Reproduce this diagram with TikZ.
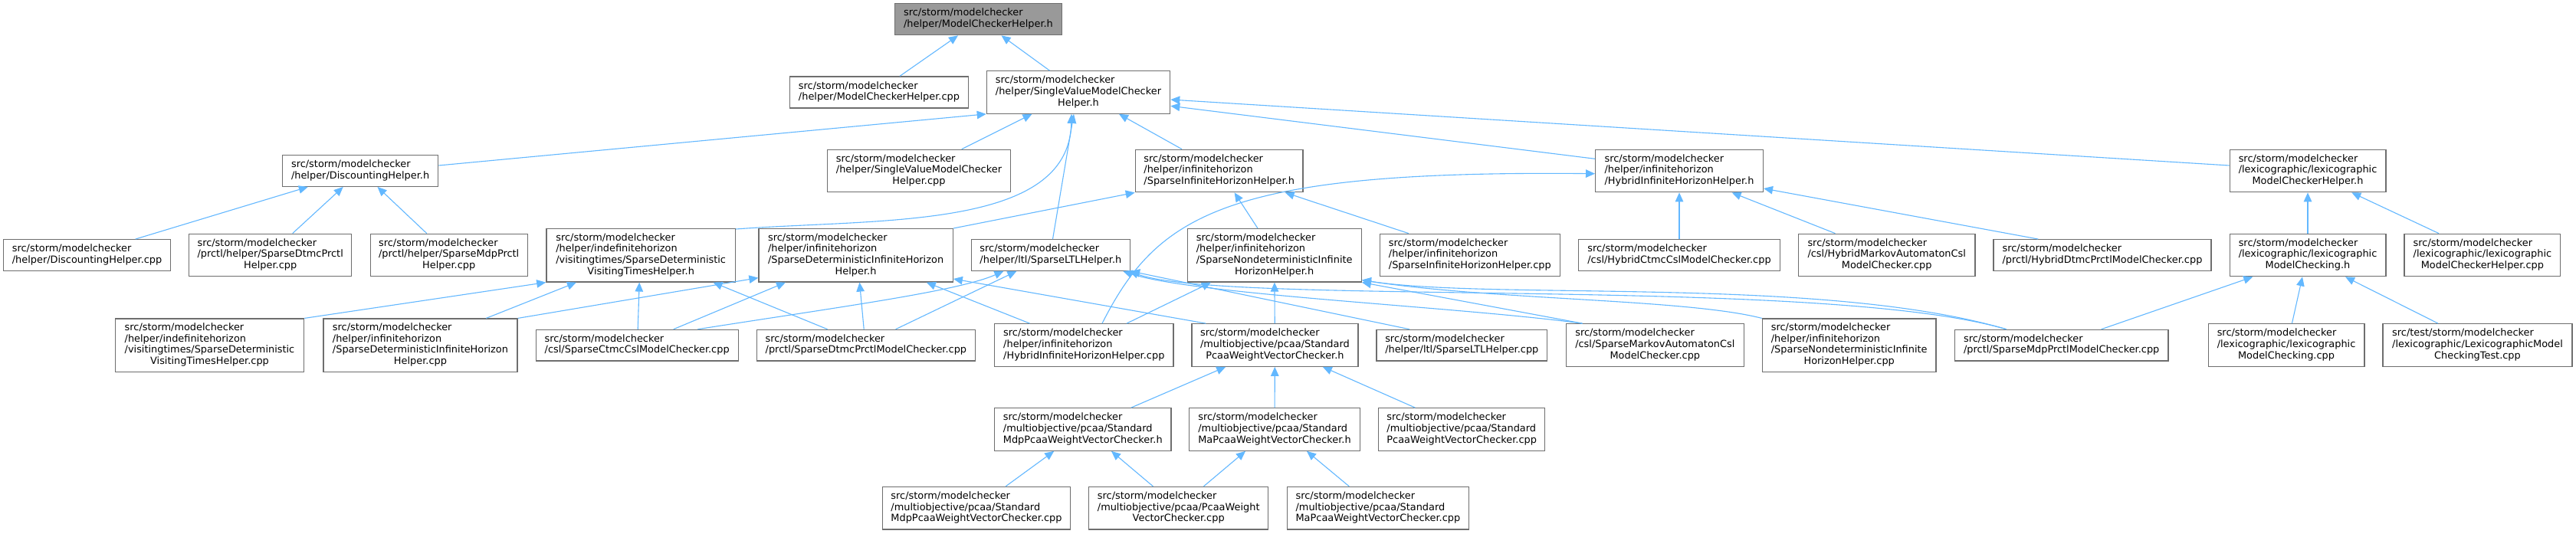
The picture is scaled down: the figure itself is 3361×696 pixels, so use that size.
\documentclass[tikz,border=0pt]{standalone}
\usepackage{fontspec}
\setmainfont{DejaVu Sans}
\usetikzlibrary{arrows.meta,calc}
\definecolor{edgeblue}{HTML}{63B8FF}
\definecolor{boxborder}{HTML}{6E6E6E}
\definecolor{rootfill}{HTML}{999999}
\newcommand{\lbl}[2]{\begin{tabular}{@{}l@{}}#1\\\multicolumn{1}{@{}c@{}}{#2}\end{tabular}}
\begin{document}
\begin{tikzpicture}[x=1pt,y=-1pt,
  box/.style={draw=boxborder,line width=1.3pt,fill=white,inner sep=0pt,
    font=\fontsize{12.9pt}{14.7pt}\selectfont},
  rootbox/.style={box,fill=rootfill},
  edge/.style={draw=edgeblue,line width=1.1pt,-{Triangle[length=12pt,width=10.5pt]}}]
\fill[white] (0,0) rectangle (3361,696);
\useasboundingbox (0,0) rectangle (3361,696);
% row 1
\node[rootbox,minimum width=218pt,minimum height=41pt] (mch) at (1276.5,25.2) {\lbl{src/storm/modelchecker}{/helper/ModelCheckerHelper.h}};
% row 2
\node[box,minimum width=232.5pt,minimum height=41pt] (mchcpp) at (1147,120.5) {\lbl{src/storm/modelchecker}{/helper/ModelCheckerHelper.cpp}};
\node[box,minimum width=239.3pt,minimum height=55.4pt] (svh) at (1407,120.5) {\lbl{src/storm/modelchecker\\/helper/SingleValueModelChecker}{Helper.h}};
% row 3
\node[box,minimum width=203.2pt,minimum height=40.6pt] (dh) at (470.1,223) {\lbl{src/storm/modelchecker}{/helper/DiscountingHelper.h}};
\node[box,minimum width=238.8pt,minimum height=55.4pt] (svhcpp) at (1199,223) {\lbl{src/storm/modelchecker\\/helper/SingleValueModelChecker}{Helper.cpp}};
\node[box,minimum width=218.7pt,minimum height=55.4pt] (sih) at (1590.7,223) {\lbl{src/storm/modelchecker\\/helper/infinitehorizon}{/SparseInfiniteHorizonHelper.h}};
\node[box,minimum width=218.7pt,minimum height=55.4pt] (hih) at (2191,223) {\lbl{src/storm/modelchecker\\/helper/infinitehorizon}{/HybridInfiniteHorizonHelper.h}};
\node[box,minimum width=203.7pt,minimum height=55.4pt] (lmch) at (3011,223) {\lbl{src/storm/modelchecker\\/lexicographic/lexicographic}{ModelCheckerHelper.h}};
% row 4
\node[box,minimum width=218pt,minimum height=40.6pt] (dhcpp) at (113.6,333) {\lbl{src/storm/modelchecker}{/helper/DiscountingHelper.cpp}};
\node[box,minimum width=211.8pt,minimum height=55.4pt] (sdtmcph) at (352.7,333) {\lbl{src/storm/modelchecker\\/prctl/helper/SparseDtmcPrctl}{Helper.cpp}};
\node[box,minimum width=205pt,minimum height=55.4pt] (smdpph) at (585.7,333) {\lbl{src/storm/modelchecker\\/prctl/helper/SparseMdpPrctl}{Helper.cpp}};
\node[box,minimum width=246.7pt,minimum height=69.3pt] (vth) at (836.2,333.3) {\lbl{src/storm/modelchecker\\/helper/indefinitehorizon\\/visitingtimes/SparseDeterministic}{VisitingTimesHelper.h}};
\node[box,minimum width=253.2pt,minimum height=69.3pt] (sdih) at (1116.6,333.3) {\lbl{src/storm/modelchecker\\/helper/infinitehorizon\\/SparseDeterministicInfiniteHorizon}{Helper.h}};
\node[box,minimum width=207.2pt,minimum height=40.6pt] (ltlh) at (1370.9,333) {\lbl{src/storm/modelchecker}{/helper/ltl/SparseLTLHelper.h}};
\node[box,minimum width=227.1pt,minimum height=69.3pt] (snih) at (1662.7,333.3) {\lbl{src/storm/modelchecker\\/helper/infinitehorizon\\/SparseNondeterministicInfinite}{HorizonHelper.h}};
\node[box,minimum width=234.8pt,minimum height=55.4pt] (sihcpp) at (1917.8,333) {\lbl{src/storm/modelchecker\\/helper/infinitehorizon}{/SparseInfiniteHorizonHelper.cpp}};
\node[box,minimum width=263.5pt,minimum height=40.6pt] (hctmc) at (2191,333) {\lbl{src/storm/modelchecker}{/csl/HybridCtmcCslModelChecker.cpp}};
\node[box,minimum width=230.8pt,minimum height=55.4pt] (hma) at (2461.7,333) {\lbl{src/storm/modelchecker\\/csl/HybridMarkovAutomatonCsl}{ModelChecker.cpp}};
\node[box,minimum width=283.9pt,minimum height=40.6pt] (hdtmc) at (2743,333) {\lbl{src/storm/modelchecker}{/prctl/HybridDtmcPrctlModelChecker.cpp}};
\node[box,minimum width=203.7pt,minimum height=55.4pt] (lmc) at (3011,333) {\lbl{src/storm/modelchecker\\/lexicographic/lexicographic}{ModelChecking.h}};
\node[box,minimum width=203.7pt,minimum height=55.4pt] (lmchcpp) at (3238.9,333) {\lbl{src/storm/modelchecker\\/lexicographic/lexicographic}{ModelCheckerHelper.cpp}};
% row 5
\node[box,minimum width=246.3pt,minimum height=69.3pt] (vthcpp) at (273.5,450.7) {\lbl{src/storm/modelchecker\\/helper/indefinitehorizon\\/visitingtimes/SparseDeterministic}{VisitingTimesHelper.cpp}};
\node[box,minimum width=253.1pt,minimum height=69.3pt] (sdihcpp) at (548.5,450.7) {\lbl{src/storm/modelchecker\\/helper/infinitehorizon\\/SparseDeterministicInfiniteHorizon}{Helper.cpp}};
\node[box,minimum width=263.9pt,minimum height=40.6pt] (sctmc) at (831.2,450.7) {\lbl{src/storm/modelchecker}{/csl/SparseCtmcCslModelChecker.cpp}};
\node[box,minimum width=285.3pt,minimum height=40.6pt] (sdtmcmc) at (1129.9,450.7) {\lbl{src/storm/modelchecker}{/prctl/SparseDtmcPrctlModelChecker.cpp}};
\node[box,minimum width=233.1pt,minimum height=55.4pt] (hihcpp) at (1414.3,450.5) {\lbl{src/storm/modelchecker\\/helper/infinitehorizon}{/HybridInfiniteHorizonHelper.cpp}};
\node[box,minimum width=216.9pt,minimum height=55.4pt] (spwh) at (1663.4,450.5) {\lbl{src/storm/modelchecker\\/multiobjective/pcaa/Standard}{PcaaWeightVectorChecker.h}};
\node[box,minimum width=222.7pt,minimum height=40.6pt] (ltlhcpp) at (1907.3,450.7) {\lbl{src/storm/modelchecker}{/helper/ltl/SparseLTLHelper.cpp}};
\node[box,minimum width=231.9pt,minimum height=55.4pt] (smacsl) at (2159.3,450.5) {\lbl{src/storm/modelchecker\\/csl/SparseMarkovAutomatonCsl}{ModelChecker.cpp}};
\node[box,minimum width=226.7pt,minimum height=69.3pt] (snihcpp) at (2412.7,450.7) {\lbl{src/storm/modelchecker\\/helper/infinitehorizon\\/SparseNondeterministicInfinite}{HorizonHelper.cpp}};
\node[box,minimum width=278.4pt,minimum height=40.6pt] (smdpmc) at (2689.7,450.7) {\lbl{src/storm/modelchecker}{/prctl/SparseMdpPrctlModelChecker.cpp}};
\node[box,minimum width=203.7pt,minimum height=55.4pt] (lmccpp) at (2983,450.5) {\lbl{src/storm/modelchecker\\/lexicographic/lexicographic}{ModelChecking.cpp}};
\node[box,minimum width=247.1pt,minimum height=55.4pt] (lmctest) at (3232.5,450.5) {\lbl{src/test/storm/modelchecker\\/lexicographic/LexicographicModel}{CheckingTest.cpp}};
% row 6
\node[box,minimum width=230.2pt,minimum height=55.4pt] (smdpwh) at (1412.8,560.5) {\lbl{src/storm/modelchecker\\/multiobjective/pcaa/Standard}{MdpPcaaWeightVectorChecker.h}};
\node[box,minimum width=223.1pt,minimum height=55.4pt] (smawh) at (1663,560.5) {\lbl{src/storm/modelchecker\\/multiobjective/pcaa/Standard}{MaPcaaWeightVectorChecker.h}};
\node[box,minimum width=217pt,minimum height=55.4pt] (spwcpp) at (1907.2,560.5) {\lbl{src/storm/modelchecker\\/multiobjective/pcaa/Standard}{PcaaWeightVectorChecker.cpp}};
% row 7
\node[box,minimum width=245.1pt,minimum height=55.4pt] (smdpwcpp) at (1274,663.2) {\lbl{src/storm/modelchecker\\/multiobjective/pcaa/Standard}{MdpPcaaWeightVectorChecker.cpp}};
\node[box,minimum width=234.2pt,minimum height=55.4pt] (pwvccpp) at (1537.7,663.2) {\lbl{src/storm/modelchecker\\/multiobjective/pcaa/PcaaWeight}{VectorChecker.cpp}};
\node[box,minimum width=237pt,minimum height=55.4pt] (smawcpp) at (1797.9,663.2) {\lbl{src/storm/modelchecker\\/multiobjective/pcaa/Standard}{MaPcaaWeightVectorChecker.cpp}};
% edges
\draw[edge] ([xshift=27pt]mchcpp.north) -- ([xshift=-26.5pt]mch.south);
\draw[edge] ([xshift=-37.5pt]svh.north) -- ([xshift=30pt]mch.south);
\draw[edge] ([yshift=7pt]dh.east) -- (svh.south west);
\draw[edge] ([xshift=55.7pt]svhcpp.north) -- ([xshift=-60.5pt]svh.south);
\draw[edge] ([xshift=-48.7pt]sih.north) -- ([xshift=53pt]svh.south);
\draw[edge] ([yshift=15.7pt]hih.west) -- ([yshift=-17.8pt]svh.east);
\draw[edge] ([yshift=7pt]lmch.west) -- ([yshift=-9.5pt]svh.east);
\draw[edge] ([yshift=-1pt]vth.north east) .. controls (1150,285) and (1395,300) .. ([xshift=-9pt]svh.south);
\draw[edge] ([xshift=2.6pt]ltlh.north) -- ([xshift=-6pt]svh.south);
\draw[edge] ([xshift=63.2pt]dhcpp.north) -- ([xshift=-68.3pt]dh.south);
\draw[edge] ([xshift=29pt]sdtmcph.north) -- ([xshift=-22.4pt]dh.south);
\draw[edge] ([xshift=-28.9pt]smdpph.north) -- ([xshift=22.4pt]dh.south);
\draw[edge] (sdih.north east) -- (sih.south west);
\draw[edge] ([xshift=-21.7pt]snih.north) -- ([xshift=19.9pt]sih.south);
\draw[edge] ([xshift=-80pt]sihcpp.north) -- ([xshift=86pt]sih.south);
\draw[edge] ([xshift=23.7pt]hihcpp.north) .. controls (1510,280) and (1600,222) .. ([yshift=-3.7pt]hih.west);
\draw[edge] (hctmc) -- (hih);
\draw[edge] ([xshift=-67.2pt]hma.north) -- ([xshift=68.6pt]hih.south);
\draw[edge] ([xshift=-83.8pt]hdtmc.north) -- ([yshift=-23pt]hih.east);
\draw[edge] (lmc) -- (lmch);
\draw[edge] ([xshift=-56.9pt]lmchcpp.north) -- ([xshift=57.3pt]lmch.south);
\draw[edge] ([xshift=51.9pt]smdpmc.north) -- ([xshift=-71.7pt]lmc.south);
\draw[edge] ([xshift=7.4pt]lmccpp.north) -- ([xshift=-7pt]lmc.south);
\draw[edge] ([xshift=-51.5pt]lmctest.north) -- ([xshift=49pt]lmc.south);
\draw[edge] (vthcpp.north east) -- (vth.south west);
\draw[edge] ([xshift=85.8pt]sdihcpp.north) -- ([xshift=-84.2pt]vth.south);
\draw[edge] ([xshift=1pt]sctmc.north) -- ([xshift=-2pt]vth.south);
\draw[edge] ([xshift=-50.3pt]sdtmcmc.north) -- ([xshift=94.2pt]vth.south);
\draw[edge] (sdihcpp.north east) -- ([yshift=6pt]sdih.south west);
\draw[edge] ([xshift=47.5pt]sctmc.north) -- ([xshift=-91.6pt]sdih.south);
\draw[edge] ([xshift=-2.7pt]sdtmcmc.north) -- ([xshift=4.9pt]sdih.south);
\draw[edge] ([xshift=-70.7pt]hihcpp.north) -- ([xshift=92.2pt]sdih.south);
\draw[edge] ([xshift=-90.1pt]spwh.north) -- ([yshift=-30.7pt]sdih.east);
\draw[edge] ([xshift=79.1pt]sctmc.north) .. controls (1100,400) and (1250,380) .. ([xshift=-61.5pt]ltlh.south);
\draw[edge] ([xshift=38.7pt]sdtmcmc.north) -- ([xshift=-44.5pt]ltlh.south);
\draw[edge] ([xshift=-68.3pt]ltlhcpp.north) -- (ltlh.south east);
\draw[edge] ([xshift=-94.7pt]smacsl.north) .. controls (1900,400) and (1560,385) .. ([xshift=-10pt]ltlh.south east);
\draw[edge] ([xshift=-72pt]smdpmc.north) .. controls (2380,360) and (1600,400) .. ([xshift=-2pt]ltlh.south east);
\draw[edge] ([xshift=55.7pt]hihcpp.north) -- ([xshift=-82.7pt]snih.south);
\draw[edge] (spwh) -- (snih);
\draw[edge] ([xshift=-94.7pt]smacsl.north) -- (snih.south east);
\draw[edge] (snihcpp.north west) .. controls (2200,390) and (1950,392) .. ([yshift=3pt]snih.south east);
\draw[edge] ([xshift=-72pt]smdpmc.north) .. controls (2380,360) and (1950,392) .. ([yshift=3pt]snih.south east);
\draw[edge] ([xshift=62.9pt]smdpwh.north) -- ([xshift=-64.2pt]spwh.south);
\draw[edge] (smawh) -- (spwh);
\draw[edge] ([xshift=-60.8pt]spwcpp.north) -- ([xshift=62.4pt]spwh.south);
\draw[edge] ([xshift=38.1pt]smdpwcpp.north) -- ([xshift=-37.6pt]smdpwh.south);
\draw[edge] ([xshift=-33.2pt]pwvccpp.north) -- ([xshift=37.2pt]smdpwh.south);
\draw[edge] ([xshift=32.7pt]pwvccpp.north) -- ([xshift=-38pt]smawh.south);
\draw[edge] ([xshift=-37.6pt]smawcpp.north) -- ([xshift=42pt]smawh.south);
\end{tikzpicture}
\end{document}
